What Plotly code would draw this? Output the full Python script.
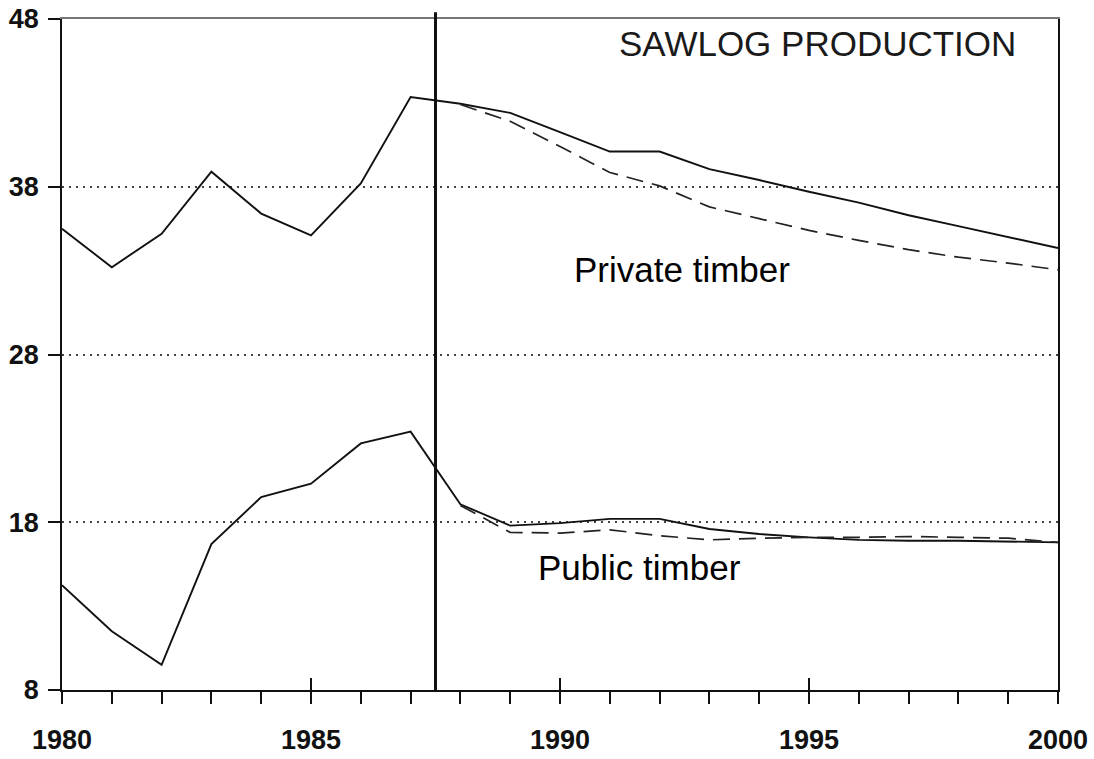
import plotly.graph_objects as go

# ---- data ----
years_hist = [1980, 1981, 1982, 1983, 1984, 1985, 1986, 1987]
years_proj = [1987, 1988, 1989, 1990, 1991, 1992, 1993, 1994, 1995, 1996, 1997, 1998, 1999, 2000]
years_alt = [1988, 1989, 1990, 1991, 1992, 1993, 1994, 1995, 1996, 1997, 1998, 1999, 2000]

private_hist = [35.5, 33.2, 35.2, 38.9, 36.4, 35.1, 38.2, 43.35]
private_proj = [43.35, 42.95, 42.4, 41.25, 40.1, 40.1, 39.05, 38.4, 37.7, 37.05, 36.3, 35.65, 35.0, 34.35]
private_alt = [42.9, 41.9, 40.4, 38.85, 38.05, 36.8, 36.1, 35.4, 34.8, 34.25, 33.8, 33.45, 33.05]

public_hist = [14.25, 11.5, 9.5, 16.7, 19.5, 20.3, 22.7, 23.4]
public_proj = [23.4, 19.07, 17.8, 17.95, 18.2, 18.2, 17.6, 17.3, 17.1, 16.95, 16.9, 16.9, 16.85, 16.8]
public_alt = [19.0, 17.4, 17.35, 17.55, 17.2, 16.95, 17.05, 17.1, 17.1, 17.15, 17.1, 17.05, 16.8]

forecast_start = 1987.5
y_ticks = [8, 18, 28, 38, 48]
x_ticks = [1980, 1985, 1990, 1995, 2000]

FONT = "Liberation Sans, Arial, sans-serif"

fig = go.Figure()

solid = dict(color="#111111", width=1.9)
dashed = dict(color="#222222", width=1.7, dash="17px,9px")

fig.add_trace(go.Scatter(x=years_hist + years_proj[1:], y=private_hist + private_proj[1:],
                         mode="lines", line=solid, showlegend=False))
fig.add_trace(go.Scatter(x=years_alt, y=private_alt, mode="lines", line=dashed, showlegend=False))
fig.add_trace(go.Scatter(x=years_hist + years_proj[1:], y=public_hist + public_proj[1:],
                         mode="lines", line=solid, showlegend=False))
fig.add_trace(go.Scatter(x=years_alt, y=public_alt, mode="lines", line=dashed, showlegend=False))

# invisible traces to activate overlay axes
fig.add_trace(go.Scatter(x=[1980], y=[8], xaxis="x2", mode="markers",
                         marker=dict(opacity=0), showlegend=False, hoverinfo="skip"))
fig.add_trace(go.Scatter(x=[1980], y=[8], xaxis="x3", mode="markers",
                         marker=dict(opacity=0), showlegend=False, hoverinfo="skip"))

fig.add_shape(type="line", x0=forecast_start, x1=forecast_start, xref="x",
              y0=0, y1=1.01, yref="paper", line=dict(color="#111111", width=3), layer="above")

fig.add_annotation(text="SAWLOG PRODUCTION", x=0.96, xref="paper", y=0.995, yref="paper",
                   xanchor="right", yanchor="top", showarrow=False,
                   font=dict(family=FONT, size=35, color="#1a1a1a"))
fig.add_annotation(text="Private timber", x=0.622, xref="paper", y=0.627, yref="paper",
                   xanchor="center", yanchor="middle", showarrow=False,
                   font=dict(family=FONT, size=35, color="#000000"))
fig.add_annotation(text="Public timber", x=0.58, xref="paper", y=0.182, yref="paper",
                   xanchor="center", yanchor="middle", showarrow=False,
                   font=dict(family=FONT, size=35, color="#000000"))

fig.update_layout(
    width=1094, height=759,
    margin=dict(l=62, r=36, t=19, b=69, autoexpand=False),
    paper_bgcolor="white", plot_bgcolor="white",
    showlegend=False,
    xaxis=dict(range=[1980, 2000], tickmode="array", tickvals=x_ticks, automargin=False,
               ticks="outside", ticklen=12, tickwidth=1.5, tickcolor="#111111",
               showline=True, linecolor="#111111", linewidth=1.8,
               showgrid=False, zeroline=False,
               tickfont=dict(family=FONT, size=27, color="#111111", weight="bold"),
               ticklabelstandoff=13,
               minor=dict(dtick=1, tick0=1980, ticks="outside", ticklen=12,
                          tickwidth=1.5, tickcolor="#111111", showgrid=False)),
    xaxis2=dict(overlaying="x", matches="x", side="bottom", tickmode="array", automargin=False,
                tickvals=x_ticks, ticks="inside", ticklen=12, tickwidth=1.5,
                tickcolor="#111111", showticklabels=False, showgrid=False,
                zeroline=False, showline=False),
    xaxis3=dict(overlaying="x", matches="x", side="top", showticklabels=False, automargin=False,
                ticks="", showgrid=False, zeroline=False, showline=True,
                linecolor="#777777", linewidth=1.5),
    yaxis=dict(range=[8, 48], tickmode="array", tickvals=y_ticks, automargin=False,
               ticks="outside", ticklen=12, tickwidth=1.5, tickcolor="#111111",
               showline=True, linecolor="#111111", linewidth=1.8, mirror=True,
               showgrid=True, gridcolor="#444444", gridwidth=1.6, griddash="2px,5px",
               zeroline=False, ticklabeloverflow="allow",
               tickfont=dict(family=FONT, size=27, color="#111111", weight="bold"),
               ticklabelstandoff=4),
)

fig.write_html("out.html", config={"displayModeBar": False},
               post_script="document.body.style.margin='0px';document.body.style.overflow='hidden';")
